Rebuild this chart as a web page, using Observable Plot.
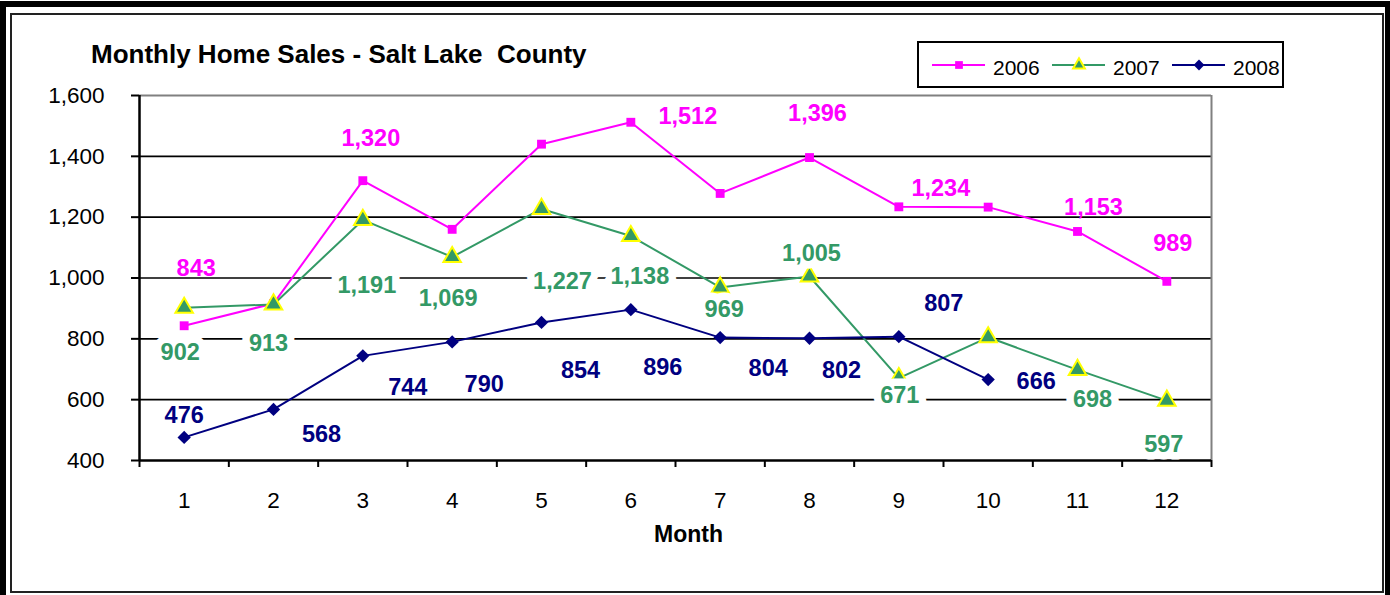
<!DOCTYPE html>
<html>
<head>
<meta charset="utf-8">
<script src="https://cdn.jsdelivr.net/npm/d3@7"></script>
<script src="https://cdn.jsdelivr.net/npm/@observablehq/plot@0.6"></script>
<style>
  body { margin: 0; background: #fff; }
  #wrap { position: relative; width: 1390px; height: 595px; overflow: hidden; background: #fff;
          font-family: "Liberation Sans", Arial, sans-serif; }
  #thick { position: absolute; left: 0; top: 1px; width: 1390px; height: 600px; box-sizing: border-box;
           border-left: 6px solid #000; border-top: 6px solid #000; border-right: 5px solid #000; }
  #inner { position: absolute; left: 10px; top: 13px; width: 1374px; height: 580px; box-sizing: border-box;
           border: 2px solid #222; }
  #chart { position: absolute; left: 0; top: 0; }
  #title { position: absolute; left: 91px; top: 41px; font-size: 26px; line-height: 26px; font-weight: bold;
           white-space: pre; color: #000; }
  #xlabel { position: absolute; left: 654px; top: 523px; font-size: 23px; line-height: 23px; font-weight: bold; color: #000; }
  #legend { position: absolute; left: 917px; top: 41px; }
</style>
</head>
<body>
<div id="wrap">
  <div id="thick"></div>
  <div id="inner"></div>
  <div id="chart"></div>
  <div id="title">Monthly Home Sales - Salt Lake  County</div>
  <div id="xlabel">Month</div>
  <svg id="legend" width="367" height="47"></svg>
</div>
<script>
// ---- data ----
const months = [1, 2, 3, 4, 5, 6, 7, 8, 9, 10, 11, 12];
const sales2006 = [843, 916, 1320, 1160, 1440, 1512, 1278, 1396, 1234, 1233, 1153, 989];
const sales2007 = [902, 913, 1191, 1069, 1227, 1138, 969, 1005, 671, 805, 698, 597];
const sales2008 = [476, 568, 744, 790, 854, 896, 804, 802, 807, 666];
const seriesNames = ["2006", "2007", "2008"];
const seriesColors = ["#FF00FF", "#339966", "#000080"];
const yTicks = [400, 600, 800, 1000, 1200, 1400, 1600];
const xTickLabels = months;

// label layout: [month, dx, dy] pixel offsets from the point
const labelLayout2006 = [[1, 12, -57], [3, 8, -42], [6, 57, -6], [8, 8, -44], [9, 42, -18], [11, 16, -24], [12, 6, -38]];
const labelLayout2007 = [[1, -4, 45], [2, -5, 39], [3, 4, 66], [4, -4, 41], [5, 21, 73], [6, 9, 40], [7, 4, 22], [8, 2, -23], [9, 1, 17], [11, 15, 30], [12, -3, 44]];
const labelLayout2008 = [[1, 0, -22], [2, 48, 25], [3, 45, 32], [4, 32, 43], [5, 39, 48], [6, 32, 58], [7, 48, 31], [8, 32, 32], [9, 45, -33], [10, 48, 2]];

// ---- build tables ----
const seriesValues = [sales2006, sales2007, sales2008];
const rows = [];
seriesNames.forEach((s, k) => seriesValues[k].forEach((v, i) => rows.push({series: s, month: months[i], value: v})));
const bySeries = s => rows.filter(d => d.series === s);
const fmt = d3.format(",");

function labelMarks(series, layout, halo) {
  const vals = seriesValues[seriesNames.indexOf(series)];
  const color = seriesColors[seriesNames.indexOf(series)];
  return layout.map(([m, dx, dy]) => Plot.text([{month: m, value: vals[m - 1]}], {
    x: "month", y: "value", text: d => fmt(d.value), dx, dy,
    fill: color, fontWeight: "bold", fontSize: 23.5,
    ...(halo ? {stroke: "white", strokeWidth: 15, strokeLinejoin: "round"} : {})
  }));
}

const boundaries = d3.range(0.5, 12.6, 1);

const chart = Plot.plot({
  width: 1390, height: 595,
  marginLeft: 139, marginRight: 179, marginTop: 95, marginBottom: 135,
  style: {fontFamily: "'Liberation Sans', Arial, sans-serif", background: "transparent", color: "#000"},
  x: {domain: [0.5, 12.5]},
  y: {domain: [400, 1600]},
  color: {domain: seriesNames, range: seriesColors},
  marks: [
    Plot.ruleY(yTicks.filter(v => v > 400 && v < 1600), {stroke: "#000", strokeWidth: 1.6}),
    Plot.ruleY([1600], {stroke: "#808080", strokeWidth: 2}),
    Plot.ruleX([12.5], {stroke: "#808080", strokeWidth: 2}),
    Plot.axisY({ticks: yTicks, tickFormat: fmt, tickSize: 8, tickPadding: 27, fontSize: 22.5, strokeWidth: 2, label: null}),
    Plot.axisX({ticks: boundaries, tickFormat: () => "", tickSize: 7, strokeWidth: 2, label: null}),
    Plot.axisX({ticks: xTickLabels, tickSize: 0, tickPadding: 32, fontSize: 22.5, label: null}),
    Plot.ruleX([0.5], {stroke: "#000", strokeWidth: 2.5}),
    Plot.ruleY([400], {stroke: "#000", strokeWidth: 2.5}),
    Plot.line(bySeries("2006"), {x: "month", y: "value", stroke: "series", strokeWidth: 2}),
    Plot.dot(bySeries("2006"), {x: "month", y: "value", symbol: "square", r: 5, fill: "series"}),
    Plot.line(bySeries("2007"), {x: "month", y: "value", stroke: "series", strokeWidth: 2}),
    Plot.dot(bySeries("2007"), {x: "month", y: "value", symbol: "triangle", r: 6.5, fill: "series", stroke: "#FFFF00", strokeWidth: 2}),
    Plot.line(bySeries("2008"), {x: "month", y: "value", stroke: "series", strokeWidth: 2}),
    Plot.dot(bySeries("2008"), {x: "month", y: "value", symbol: "diamond2", r: 6, fill: "series"}),
    ...labelMarks("2006", labelLayout2006, false),
    ...labelMarks("2007", labelLayout2007, true),
    ...labelMarks("2008", labelLayout2008, false)
  ]
});
document.getElementById("chart").appendChild(chart);

// ---- legend ----
const lg = d3.select("#legend");
lg.append("rect").attr("x", 1).attr("y", 1).attr("width", 365).attr("height", 45)
  .attr("fill", "white").attr("stroke", "#000").attr("stroke-width", 2);
const legendSymbols = ["square", "triangle", "diamond2"];
const symMap = {square: d3.symbolSquare, triangle: d3.symbolTriangle, diamond2: d3.symbolDiamond2};
seriesNames.forEach((s, k) => {
  const x0 = 15 + k * 120;
  const g = lg.append("g");
  g.append("line").attr("x1", x0).attr("x2", x0 + 53).attr("y1", 24).attr("y2", 24)
    .attr("stroke", seriesColors[k]).attr("stroke-width", 2);
  const sym = legendSymbols[k];
  const size = sym === "square" ? 60 : sym === "triangle" ? 60 : 75;
  g.append("path").attr("d", d3.symbol(symMap[sym], size)()).attr("transform", `translate(${x0 + 27},24)`)
    .attr("fill", seriesColors[k])
    .attr("stroke", sym === "triangle" ? "#FFFF00" : "none").attr("stroke-width", 2);
  g.append("text").attr("x", x0 + 61).attr("y", 34).attr("font-size", 21)
    .attr("font-family", "'Liberation Sans', Arial, sans-serif").attr("fill", "#000").text(s);
});
</script>
</body>
</html>
